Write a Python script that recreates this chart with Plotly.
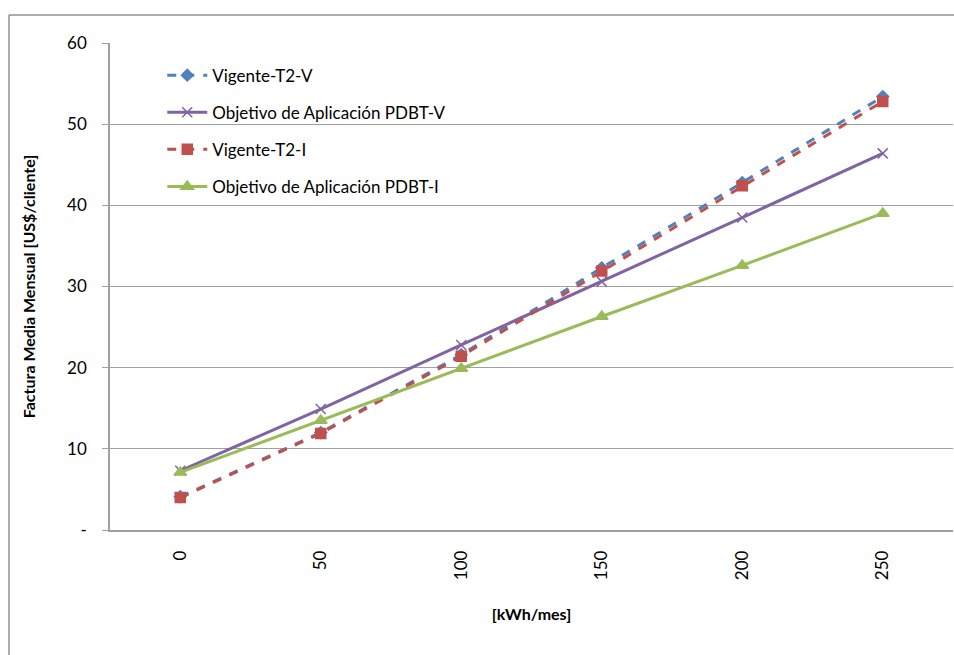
import plotly.graph_objects as go

kwh = [0, 50, 100, 150, 200, 250]
vigente_t2_v = [4.1, 12.0, 21.6, 32.3, 42.8, 53.4]
pdbt_v = [7.3, 14.9, 22.8, 30.6, 38.5, 46.4]
vigente_t2_i = [4.0, 11.9, 21.4, 31.9, 42.4, 52.8]
pdbt_i = [7.1, 13.5, 19.9, 26.3, 32.6, 39.0]

y_tickvals = [0, 10, 20, 30, 40, 50, 60]
y_ticktext = ["-", "10", "20", "30", "40", "50", "60"]
x_ticktext = ["0", "50", "100", "150", "200", "250"]

FONT = "Lato"

fig = go.Figure()
series = [
    ("Vigente-T2-V", vigente_t2_v, "#4F81BD", "dash", "diamond", 9),
    ("Objetivo de Aplicación PDBT-V", pdbt_v, "#8064A2", "solid", "x-thin", 10),
    ("Vigente-T2-I", vigente_t2_i, "#C0504D", "dash", "square", 10),
    ("Objetivo de Aplicación PDBT-I", pdbt_i, "#9BBB59", "solid", "triangle-up", 11),
]
for i, (name, vals, col, dash, sym, sz) in enumerate(series):
    fig.add_trace(go.Scatter(
        x=kwh, y=vals, name=name, mode="lines+markers",
        legendgroup=f"g{i}",
        line=dict(color=col, width=3, dash=dash),
        marker=dict(symbol=sym, size=sz, color=col,
                    line=dict(color=col, width=1.5)),
    ))

fig.update_layout(
    width=954, height=655,
    margin=dict(l=110, r=1, t=43, b=125),
    plot_bgcolor="white", paper_bgcolor="white",
    font=dict(family=FONT, size=17, color="black"),
    showlegend=True,
    legend=dict(x=0.062, y=0.97, xanchor="left", yanchor="top",
                bgcolor="rgba(0,0,0,0)", font=dict(family=FONT, size=17),
                itemwidth=40, tracegroupgap=12),
    xaxis=dict(
        range=[-25, 275], tickmode="array", tickvals=kwh, ticktext=x_ticktext,
        tickangle=-90, showgrid=False, zeroline=False,
        showline=True, linecolor="#A0A0A0", linewidth=1.5,
        ticks="", tickfont=dict(size=17), ticklabelstandoff=12,
        title=dict(text="<b>[kWh/mes]</b>", font=dict(size=16), standoff=30),
    ),
    yaxis=dict(
        range=[0, 60], tickmode="array", tickvals=y_tickvals, ticktext=y_ticktext,
        showgrid=True, gridcolor="#A0A0A0", gridwidth=1.2, zeroline=False,
        showline=True, linecolor="#A0A0A0", linewidth=1.5,
        ticks="outside", ticklen=6, tickcolor="#A0A0A0",
        tickfont=dict(size=17), ticklabelstandoff=12,
        title=dict(text="<b>Factura Media Mensual [US$/cliente]</b>",
                   font=dict(size=16), standoff=28),
    ),
)

# outer chart-area border (left and top)
fig.add_shape(type="line", xref="paper", yref="paper",
              x0=(9 - 110) / 843, x1=(9 - 110) / 843, y0=(530 - 660) / 487, y1=(530 - 15) / 487,
              line=dict(color="#909090", width=1.5))
fig.add_shape(type="line", xref="paper", yref="paper",
              x0=(9 - 110) / 843, x1=1.01, y0=(530 - 15) / 487, y1=(530 - 15) / 487,
              line=dict(color="#909090", width=1.5))

fig.write_html("out.html")
